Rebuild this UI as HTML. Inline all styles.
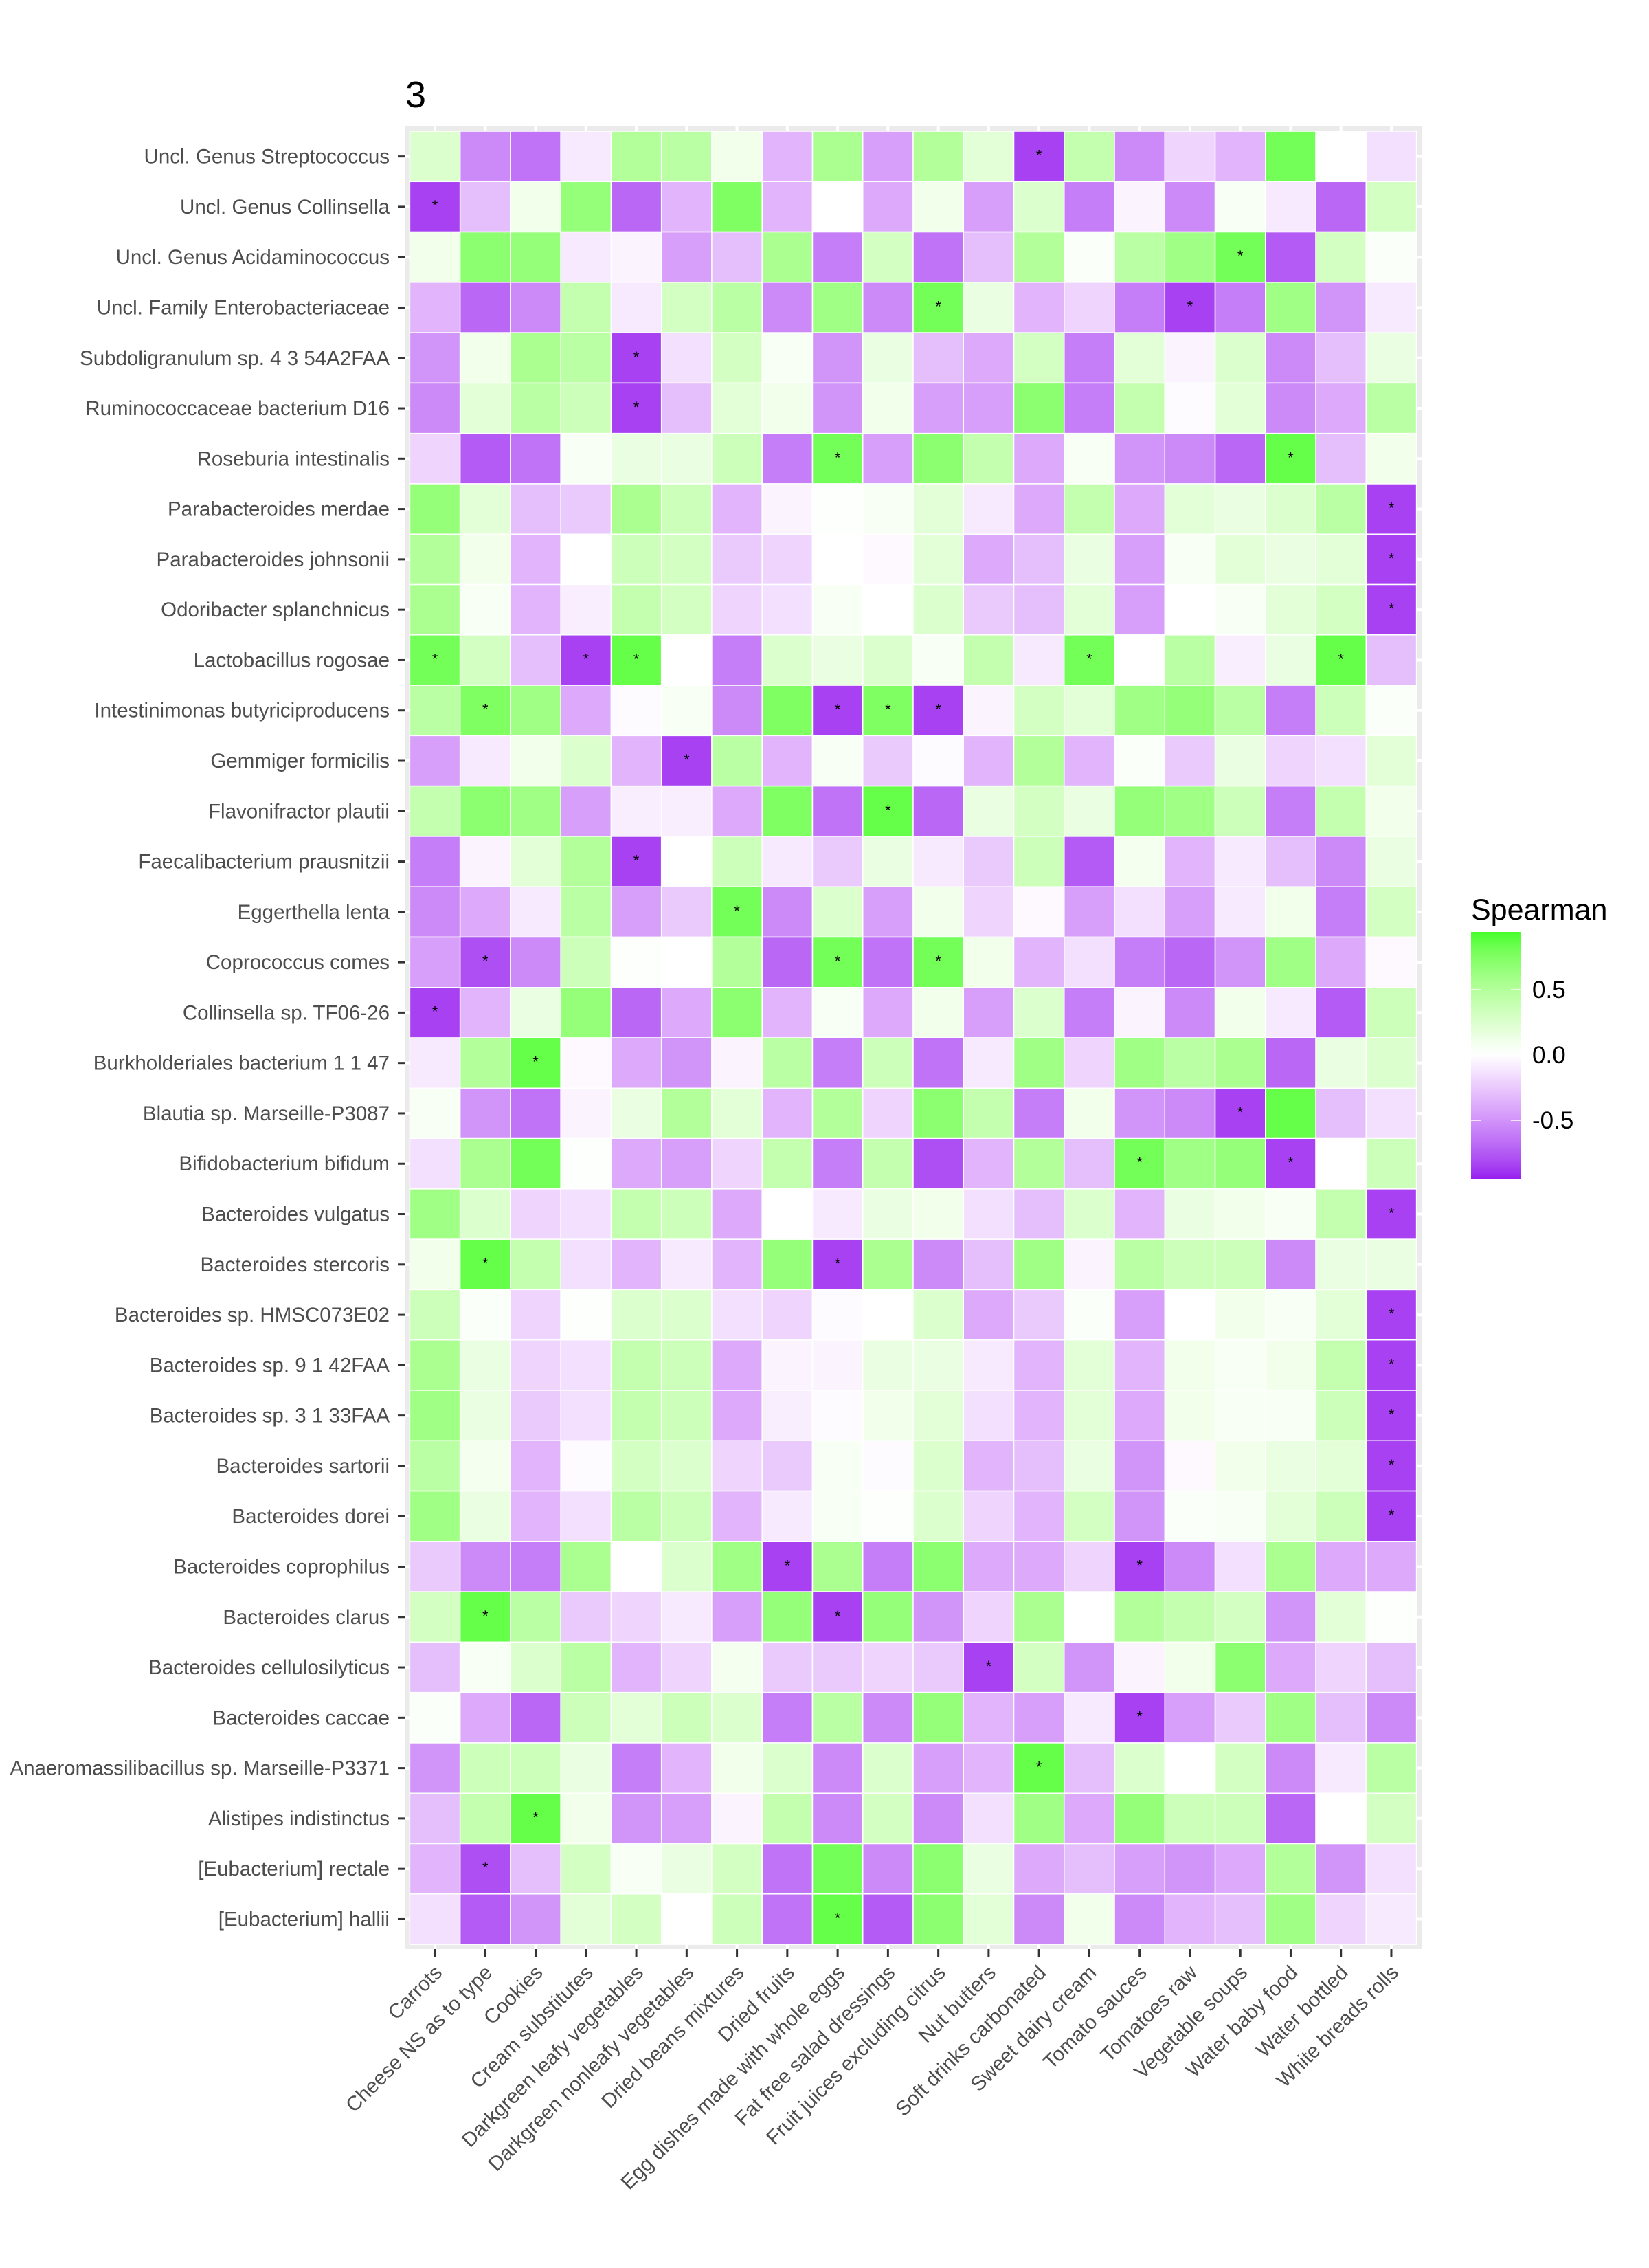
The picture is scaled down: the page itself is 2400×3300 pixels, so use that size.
<!DOCTYPE html>
<html><head><meta charset="utf-8"><style>
html,body{margin:0;padding:0;background:#fff;}
svg{display:block;font-family:"Liberation Sans",Arial,sans-serif;}
</style></head><body>
<svg id="chart" width="2400" height="3300" viewBox="0 0 2400 3300" xmlns="http://www.w3.org/2000/svg">
<rect x="0" y="0" width="2400" height="3300" fill="#fff"/>
<text x="590" y="156" font-size="54" fill="#000">3</text>
<rect x="590" y="183" width="1479" height="2653" fill="#ebebeb"/>
<g id="grid"></g>
<g id="tiles"></g>
<g id="stars"></g>
<g id="yaxis"></g>
<g id="xaxis"></g>
<g id="legend">
<defs><linearGradient id="lg" x1="0" y1="0" x2="0" y2="1"></linearGradient></defs>
<text x="2141" y="1338" font-size="43" fill="#000">Spearman</text>
<rect x="2141" y="1356" width="72" height="359" fill="url(#lg)"/>
</g>
</svg>
<script>
const rows = ["Uncl. Genus Streptococcus","Uncl. Genus Collinsella","Uncl. Genus Acidaminococcus","Uncl. Family Enterobacteriaceae","Subdoligranulum sp. 4 3 54A2FAA","Ruminococcaceae bacterium D16","Roseburia intestinalis","Parabacteroides merdae","Parabacteroides johnsonii","Odoribacter splanchnicus","Lactobacillus rogosae","Intestinimonas butyriciproducens","Gemmiger formicilis","Flavonifractor plautii","Faecalibacterium prausnitzii","Eggerthella lenta","Coprococcus comes","Collinsella sp. TF06-26","Burkholderiales bacterium 1 1 47","Blautia sp. Marseille-P3087","Bifidobacterium bifidum","Bacteroides vulgatus","Bacteroides stercoris","Bacteroides sp. HMSC073E02","Bacteroides sp. 9 1 42FAA","Bacteroides sp. 3 1 33FAA","Bacteroides sartorii","Bacteroides dorei","Bacteroides coprophilus","Bacteroides clarus","Bacteroides cellulosilyticus","Bacteroides caccae","Anaeromassilibacillus sp. Marseille-P3371","Alistipes indistinctus","[Eubacterium] rectale","[Eubacterium] hallii"];
const cols = ["Carrots","Cheese NS as to type","Cookies","Cream substitutes","Darkgreen leafy vegetables","Darkgreen nonleafy vegetables","Dried beans mixtures","Dried fruits","Egg dishes made with whole eggs","Fat free salad dressings","Fruit juices excluding citrus","Nut butters","Soft drinks carbonated","Sweet dairy cream","Tomato sauces","Tomatoes raw","Vegetable soups","Water baby food","Water bottled","White breads rolls"];
const values = [
[.25,-.55,-.65,-.1,.5,.45,.1,-.35,.55,-.45,.5,.2,-.85,.4,-.55,-.2,-.35,.8,0,-.15],
[-.85,-.3,.1,.65,-.7,-.35,.75,-.35,0,-.4,.1,-.45,.25,-.6,-.05,-.55,.05,-.1,-.7,.3],
[.1,.7,.65,-.1,-.05,-.45,-.3,.55,-.6,.3,-.65,-.3,.5,.03,.45,.6,.8,-.75,.3,.03],
[-.35,-.7,-.55,.4,-.1,.3,.45,-.55,.6,-.55,.8,.15,-.35,-.2,-.6,-.85,-.6,.6,-.5,-.1],
[-.5,.1,.55,.45,-.85,-.15,.3,.05,-.5,.15,-.3,-.4,.3,-.6,.2,-.05,.25,-.55,-.3,.15],
[-.55,.2,.45,.35,-.85,-.3,.2,.1,-.5,.1,-.45,-.45,.7,-.6,.4,-.02,.2,-.55,-.4,.45],
[-.2,-.75,-.65,.05,.15,.15,.35,-.6,.8,-.45,.7,.4,-.4,.05,-.5,-.55,-.7,.85,-.3,.1],
[.65,.2,-.3,-.25,.55,.35,-.35,-.05,.02,.05,.2,-.1,-.4,.4,-.4,.2,.15,.25,.45,-.85],
[.5,.1,-.35,0,.35,.3,-.25,-.2,0,-.03,.2,-.4,-.3,.15,-.45,.05,.2,.15,.2,-.85],
[.55,.05,-.35,-.08,.4,.3,-.2,-.15,.05,0,.25,-.25,-.3,.2,-.45,0,.05,.2,.3,-.85],
[.8,.3,-.3,-.85,.85,0,-.6,.25,.15,.25,.05,.4,-.1,.8,0,.45,-.08,.15,.85,-.3],
[.45,.75,.6,-.4,-.02,.05,-.55,.75,-.85,.75,-.85,-.05,.3,.2,.6,.65,.45,-.6,.35,.03],
[-.45,-.1,.1,.25,-.35,-.85,.45,-.35,.05,-.25,-.02,-.35,.5,-.35,.03,-.25,.15,-.2,-.15,.2],
[.4,.7,.6,-.45,-.08,-.08,-.4,.75,-.65,.85,-.7,.15,.3,.15,.65,.6,.35,-.6,.4,.1],
[-.6,-.05,.2,.5,-.85,0,.35,-.1,-.25,.15,-.1,-.25,.35,-.75,.08,-.35,-.1,-.3,-.55,.15],
[-.55,-.4,-.1,.45,-.45,-.25,.8,-.55,.25,-.45,.1,-.2,-.03,-.45,-.15,-.45,-.1,.1,-.6,.3],
[-.45,-.8,-.55,.35,.02,0,.5,-.7,.8,-.65,.8,.1,-.35,-.15,-.6,-.7,-.5,.6,-.4,-.03],
[-.85,-.35,.15,.65,-.7,-.4,.7,-.35,.05,-.4,.1,-.45,.25,-.6,-.05,-.55,.1,-.1,-.75,.35],
[-.1,.5,.85,-.03,-.4,-.5,-.05,.45,-.6,.35,-.65,-.1,.6,-.2,.6,.45,.55,-.7,.15,.25],
[.05,-.5,-.65,-.05,.15,.5,.2,-.35,.5,-.2,.7,.4,-.6,.1,-.5,-.55,-.85,.85,-.3,-.15],
[-.15,.55,.8,.02,-.4,-.45,-.2,.4,-.6,.4,-.8,-.35,.5,-.3,.8,.6,.65,-.85,0,.35],
[.6,.25,-.2,-.15,.4,.35,-.4,0,-.1,.15,.1,-.15,-.3,.25,-.35,.15,.1,.05,.4,-.85],
[.1,.85,.4,-.15,-.35,-.1,-.35,.65,-.85,.55,-.55,-.3,.6,-.05,.45,.35,.35,-.55,.15,.15],
[.35,.03,-.2,.02,.25,.25,-.15,-.2,-.02,0,.25,-.4,-.25,.03,-.45,0,.1,.05,.2,-.85],
[.55,.15,-.2,-.15,.4,.35,-.4,-.05,-.05,.15,.15,-.1,-.35,.2,-.35,.1,.05,.1,.4,-.85],
[.6,.15,-.25,-.15,.4,.35,-.4,-.08,-.02,.1,.2,-.15,-.35,.2,-.4,.1,.05,.05,.35,-.85],
[.45,.08,-.35,-.02,.3,.25,-.2,-.25,.05,-.02,.25,-.35,-.3,.15,-.5,-.03,.1,.15,.2,-.85],
[.6,.15,-.35,-.15,.45,.35,-.35,-.1,.05,.02,.25,-.2,-.35,.3,-.5,.03,.05,.2,.35,-.85],
[-.25,-.55,-.6,.55,0,.25,.6,-.85,.55,-.6,.7,-.4,-.4,-.2,-.85,-.55,-.15,.55,-.4,-.4],
[.3,.85,.45,-.25,-.2,-.1,-.45,.65,-.85,.65,-.5,-.2,.55,0,.5,.4,.3,-.5,.2,.02],
[-.3,.05,.25,.45,-.35,-.2,.08,-.25,-.25,-.2,-.25,-.85,.3,-.5,-.05,.1,.7,-.4,-.2,-.3],
[.03,-.4,-.7,.35,.2,.35,.25,-.6,.45,-.55,.65,-.35,-.45,-.1,-.85,-.45,-.25,.6,-.3,-.55],
[-.5,.35,.35,.15,-.6,-.35,.1,.25,-.55,.25,-.45,-.35,.85,-.3,.25,0,.3,-.55,-.1,.45],
[-.3,.4,.85,.1,-.5,-.45,-.05,.4,-.55,.3,-.55,-.15,.6,-.4,.65,.35,.35,-.7,0,.3],
[-.35,-.8,-.3,.3,.05,.15,.3,-.65,.8,-.55,.7,.15,-.4,-.3,-.45,-.5,-.4,.5,-.5,-.15],
[-.15,-.75,-.5,.2,.3,0,.35,-.65,.85,-.75,.7,.2,-.55,.1,-.55,-.35,-.3,.6,-.2,-.1]
];
const sigCells = [[0,12],[1,0],[2,16],[3,10],[3,15],[4,4],[5,4],[6,8],[6,17],[7,19],[8,19],[9,19],[10,0],[10,3],[10,4],[10,13],[10,18],[11,1],[11,8],[11,9],[11,10],[12,5],[13,9],[14,4],[15,6],[16,1],[16,8],[16,10],[17,0],[18,2],[19,16],[20,14],[20,17],[21,19],[22,1],[22,8],[23,19],[24,19],[25,19],[26,19],[27,19],[28,7],[28,14],[29,1],[29,8],[30,11],[31,14],[32,12],[33,2],[34,1],[35,8]];
const legendTicks = [0.5, 0.0, -0.5];
const legendLabels = ["0.5","0.0","-0.5"];

const NS="http://www.w3.org/2000/svg";
const X0=596.4, Y0=191, CW=73.26, RH=73.28;
const LMIN=-0.95, LMAX=0.94;
function xc(i){return X0+CW*(i+0.5);}
function yc(j){return Y0+RH*(j+0.5);}
function mk(tag,attrs,parent){const e=document.createElementNS(NS,tag);for(const k in attrs)e.setAttribute(k,attrs[k]);parent.appendChild(e);return e;}
function srgb2lin(c){c/=255;return c<=0.04045?c/12.92:Math.pow((c+0.055)/1.055,2.4);}
function lin2srgb(c){c=c<=0.0031308?12.92*c:1.055*Math.pow(c,1/2.4)-0.055;return Math.round(Math.max(0,Math.min(1,c))*255);}
function toLab(h){const r=srgb2lin(parseInt(h.substr(1,2),16)),g=srgb2lin(parseInt(h.substr(3,2),16)),b=srgb2lin(parseInt(h.substr(5,2),16));
let X=(0.4124*r+0.3576*g+0.1805*b)/0.95047,Y=0.2126*r+0.7152*g+0.0722*b,Z=(0.0193*r+0.1192*g+0.9505*b)/1.08883;
const f=t=>t>0.008856?Math.cbrt(t):7.787*t+16/116;const fx=f(X),fy=f(Y),fz=f(Z);return[116*fy-16,500*(fx-fy),200*(fy-fz)];}
function fromLab(L){const fy=(L[0]+16)/116,fx=fy+L[1]/500,fz=fy-L[2]/200;const g=t=>t*t*t>0.008856?t*t*t:(t-16/116)/7.787;
const X=g(fx)*0.95047,Y=g(fy),Z=g(fz)*1.08883;
const r=3.2406*X-1.5372*Y-0.4986*Z,gg=-0.9689*X+1.8758*Y+0.0415*Z,b=0.0557*X-0.2040*Y+1.0570*Z;
return "rgb("+lin2srgb(r)+","+lin2srgb(gg)+","+lin2srgb(b)+")";}
const LOW=toLab("#981ef0"),MID=toLab("#ffffff"),HIGH=toLab("#44ff2a");
function color(v){let a,b,t;if(v>=0){t=Math.min(1,v/LMAX);a=MID;b=HIGH;}else{t=Math.min(1,v/LMIN);a=MID;b=LOW;}
return fromLab([a[0]+(b[0]-a[0])*t,a[1]+(b[1]-a[1])*t,a[2]+(b[2]-a[2])*t]);}

const grid=document.getElementById('grid');
cols.forEach((c,i)=>{const l=mk('line',{x1:xc(i),x2:xc(i),y1:183,y2:2836,stroke:'#fff','stroke-width':4},grid);

});
rows.forEach((r,j)=>{const l=mk('line',{x1:590,x2:2069,y1:yc(j),y2:yc(j),stroke:'#fff','stroke-width':4},grid);

});

const tiles=document.getElementById('tiles');
values.forEach((row,j)=>row.forEach((v,i)=>{
const r=mk('rect',{x:X0+CW*i,y:Y0+RH*j,width:CW,height:RH,fill:color(v),stroke:'#fff','stroke-width':1.5},tiles);


}));
const stars=document.getElementById('stars');
sigCells.forEach(([j,i])=>{const t=mk('text',{x:xc(i),y:yc(j)+6,'font-size':22,'text-anchor':'middle',fill:'#000'},stars);t.textContent='*';

});

const ya=document.getElementById('yaxis');
rows.forEach((r,j)=>{
const tk=mk('line',{x1:579,x2:590,y1:yc(j),y2:yc(j),stroke:'#333','stroke-width':3},ya);


const t=mk('text',{x:567,y:yc(j)+10,'font-size':29.5,'text-anchor':'end',fill:'#4d4d4d'},ya);t.textContent=r;

});
const xa=document.getElementById('xaxis');
cols.forEach((c,i)=>{
const tk=mk('line',{x1:xc(i),x2:xc(i),y1:2836,y2:2847,stroke:'#333','stroke-width':3},xa);


const ax=xc(i)+12, ay=2872;
const t=mk('text',{x:ax,y:ay,'font-size':29.5,'text-anchor':'end',fill:'#4d4d4d',transform:'rotate(-45 '+ax+' '+ay+')'},xa);t.textContent=c;

});

const lg=document.getElementById('lg');
for(let k=0;k<=40;k++){const v=LMAX-(LMAX-LMIN)*k/40;mk('stop',{offset:(k/40),'stop-color':color(v)},lg);}
const leg=document.getElementById('legend');
const ly=v=>1535-190*v;
legendTicks.forEach((v,k)=>{
const a=mk('line',{x1:2141,x2:2155,y1:ly(v),y2:ly(v),stroke:'#fff','stroke-width':1.5},leg);


const b=mk('line',{x1:2199,x2:2213,y1:ly(v),y2:ly(v),stroke:'#fff','stroke-width':1.5},leg);


const t=mk('text',{x:2230,y:ly(v)+12,'font-size':35,fill:'#000'},leg);t.textContent=legendLabels[k];

});
</script>
</body></html>
